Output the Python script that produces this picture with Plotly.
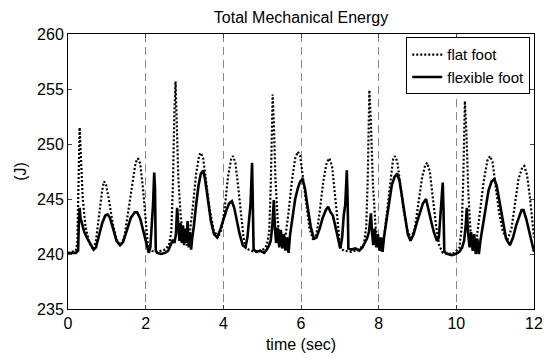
import plotly.graph_objects as go

# ---- data ----
flat_t = [0.00, 0.10, 0.20, 0.24, 0.27, 0.30, 0.33, 0.38, 0.45, 0.55, 0.65, 0.72, 0.80, 0.88, 0.93, 0.98,
          1.05, 1.15, 1.25, 1.36, 1.45, 1.55, 1.65, 1.74, 1.80, 1.86, 1.93, 2.00, 2.06, 2.10,
          2.30, 2.50, 2.60, 2.66, 2.70, 2.74, 2.77, 2.80, 2.84, 2.90, 2.97, 3.06, 3.14, 3.22, 3.30,
          3.38, 3.42, 3.48, 3.56, 3.65, 3.75, 3.86, 3.95, 4.03, 4.12, 4.20, 4.25, 4.31, 4.38, 4.45,
          4.52, 4.58, 4.65, 4.80, 5.00, 5.12, 5.18, 5.22, 5.25, 5.27, 5.30, 5.34, 5.40, 5.46, 5.52,
          5.60, 5.68, 5.76, 5.85, 5.92, 5.98, 6.05, 6.13, 6.22, 6.32, 6.40, 6.48, 6.57, 6.66, 6.73,
          6.80, 6.87, 6.94, 7.00, 7.04, 7.10, 7.30, 7.50, 7.62, 7.68, 7.72, 7.76, 7.80, 7.85, 7.92,
          8.00, 8.06, 8.14, 8.22, 8.30, 8.37, 8.42, 8.48, 8.56, 8.65, 8.75, 8.84, 8.93, 9.02, 9.12,
          9.20, 9.25, 9.32, 9.40, 9.48, 9.56, 9.65, 9.80, 9.95, 10.08, 10.14, 10.18, 10.22, 10.26,
          10.31, 10.37, 10.44, 10.52, 10.60, 10.70, 10.80, 10.87, 10.93, 11.00, 11.10, 11.20, 11.32,
          11.42, 11.50, 11.60, 11.70, 11.75, 11.82, 11.90, 12.00]
flat_e = [240.1, 240.2, 240.3, 241.0, 246.0, 251.5, 249.0, 245.0, 242.5, 241.0, 240.4, 241.2, 243.5, 245.8, 246.6, 246.3,
          245.0, 242.8, 241.3, 240.8, 241.5, 243.8, 246.5, 248.3, 248.7, 248.2, 246.0, 243.0, 240.6, 240.3,
          240.2, 240.4, 240.8, 242.0, 246.0, 253.0, 255.7, 252.0, 247.0, 243.5, 241.5, 240.8, 242.0, 244.5, 247.3,
          249.0, 249.2, 248.7, 246.5, 244.0, 242.2, 241.5, 242.2, 244.0, 247.0, 248.6, 248.9, 248.3, 246.2, 243.5,
          241.5, 240.6, 240.4, 240.2, 240.3, 240.8, 242.0, 246.0, 252.0, 254.5, 252.0, 247.0, 243.0, 241.2, 240.8,
          241.6, 243.8, 246.5, 248.7, 249.3, 248.9, 247.0, 244.5, 242.3, 241.2, 241.8, 243.8, 246.5, 248.3, 248.7,
          248.0, 245.5, 242.8, 241.0, 240.5, 240.3, 240.2, 240.4, 240.9, 242.5, 247.0, 254.9, 252.0, 246.5, 242.5,
          240.6, 240.3, 241.5, 244.0, 246.8, 248.6, 248.9, 248.4, 246.2, 243.8, 242.0, 241.5, 242.3, 244.5, 247.0,
          248.1, 248.3, 247.4, 245.0, 242.5, 240.8, 240.1, 240.0, 240.1, 240.6, 242.5, 247.0, 253.9, 251.0,
          245.5, 241.8, 240.3, 241.3, 243.5, 246.5, 248.5, 248.9, 248.4, 246.5, 243.8, 242.0, 241.3,
          242.3, 244.3, 246.8, 247.9, 248.0, 247.2, 245.0, 241.5]

flex_t = [0.00, 0.10, 0.20, 0.26, 0.28, 0.30, 0.32, 0.36, 0.42, 0.50, 0.58, 0.66, 0.72, 0.80, 0.88, 0.96,
          1.02, 1.08, 1.16, 1.25, 1.34, 1.42, 1.52, 1.62, 1.72, 1.78, 1.86, 1.94, 2.02, 2.08, 2.12,
          2.16, 2.19, 2.22, 2.24, 2.26, 2.30, 2.40, 2.50, 2.58, 2.64, 2.70, 2.74, 2.78, 2.81, 2.84,
          2.87, 2.90, 2.93, 2.96, 2.99, 3.02, 3.05, 3.08, 3.11, 3.14, 3.17, 3.20, 3.24, 3.30, 3.36,
          3.42, 3.48, 3.53, 3.60, 3.68, 3.76, 3.84, 3.92, 4.00, 4.08, 4.15, 4.22, 4.28, 4.35, 4.42,
          4.50, 4.57, 4.62, 4.66, 4.70, 4.74, 4.76, 4.78, 4.85, 4.95, 5.05, 5.12, 5.18, 5.22, 5.26,
          5.30, 5.33, 5.36, 5.40, 5.44, 5.48, 5.52, 5.56, 5.60, 5.64, 5.68, 5.72, 5.78, 5.85, 5.92,
          5.98, 6.04, 6.10, 6.17, 6.25, 6.33, 6.40, 6.48, 6.56, 6.64, 6.70, 6.76, 6.82, 6.88, 6.95,
          7.01, 7.06, 7.10, 7.14, 7.18, 7.20, 7.22, 7.30, 7.40, 7.50, 7.58, 7.64, 7.70, 7.75, 7.80,
          7.83, 7.86, 7.90, 7.94, 7.98, 8.02, 8.06, 8.10, 8.14, 8.20, 8.27, 8.34, 8.41, 8.48, 8.54,
          8.61, 8.68, 8.75, 8.82, 8.90, 8.98, 9.06, 9.14, 9.22, 9.28, 9.35, 9.42, 9.50, 9.55, 9.59,
          9.62, 9.65, 9.67, 9.69, 9.78, 9.88, 9.98, 10.08, 10.15, 10.20, 10.24, 10.27, 10.30, 10.34,
          10.38, 10.42, 10.46, 10.50, 10.54, 10.58, 10.62, 10.68, 10.75, 10.83, 10.91, 10.98, 11.04,
          11.12, 11.20, 11.28, 11.38, 11.46, 11.54, 11.62, 11.68, 11.73, 11.80, 11.88, 11.95, 12.00]
flex_e = [240.0, 240.1, 240.1, 240.3, 243.0, 244.2, 243.3, 242.8, 242.0, 241.4, 240.9, 240.4, 240.6, 241.6, 242.8, 243.5,
          243.6, 243.3, 242.3, 241.2, 240.8, 241.1, 242.2, 243.3, 243.8, 243.8, 243.2, 242.0, 240.8, 240.1, 240.6,
          242.5, 244.5, 247.4, 246.0, 240.3, 240.1, 240.0, 240.1, 240.3, 240.8, 241.3, 241.0, 241.8, 244.2, 242.5,
          241.2, 242.8, 241.0, 242.6, 240.8, 242.3, 241.0, 243.0, 240.6, 242.0, 240.4, 241.5, 242.5, 244.5, 246.2,
          247.3, 247.6, 246.8, 245.0, 243.0, 241.8, 241.5, 242.2, 243.2, 244.0, 244.6, 244.8, 244.2, 243.0, 241.8,
          240.8, 240.6, 241.5, 243.0, 244.5, 248.3, 245.0, 240.4, 240.2, 240.3, 240.1, 240.4, 240.8, 241.2, 242.5,
          244.9, 242.3, 241.0, 242.4, 240.6, 242.2, 240.5, 241.8, 240.3, 241.5, 240.1, 241.8, 243.5, 245.0, 246.0,
          246.6, 246.8, 246.0, 244.3, 242.5, 241.4, 241.5, 242.3, 243.3, 244.0, 244.3, 243.8, 243.5, 242.6, 241.4,
          240.5, 241.5, 243.5, 244.5, 247.6, 245.0, 240.5, 240.4, 240.5, 240.3, 240.6, 241.0, 241.4, 242.0, 243.7,
          242.0, 240.8, 242.3, 240.6, 241.8, 240.3, 241.5, 240.2, 241.6, 243.0, 244.8, 246.3, 247.0, 247.3, 246.6,
          245.0, 243.2, 241.8, 241.2, 241.8, 242.8, 243.8, 244.6, 245.0, 244.2, 243.0, 242.0, 241.2, 241.5, 243.5,
          244.5, 246.5, 244.0, 240.2, 240.0, 239.9, 240.0, 240.2, 240.6, 241.2, 242.5, 244.2, 242.0, 240.6,
          242.0, 240.3, 241.8, 240.0, 241.4, 240.0, 241.2, 242.5, 244.2, 245.8, 246.6, 246.8, 246.2,
          244.5, 242.8, 241.4, 240.8, 241.5, 242.6, 243.5, 244.0, 244.0, 243.2, 242.0, 240.8, 240.2]

x_ticks = [0, 2, 4, 6, 8, 10, 12]
y_ticks = [235, 240, 245, 250, 255, 260]
series_names = ["flat foot", "flexible foot"]

FONT = "Arial, Liberation Sans, Helvetica, sans-serif"

fig = go.Figure()
fig.add_trace(go.Scatter(x=flat_t, y=flat_e, mode="lines", name=series_names[0],
                         line=dict(color="black", width=2.2, dash="2px,2px")))
fig.add_trace(go.Scatter(x=flex_t, y=flex_e, mode="lines", name=series_names[1],
                         line=dict(color="black", width=2.6)))

# the page body adds an 8px offset, so the figure is 8px smaller each way
fig.update_layout(
    width=548, height=354,
    margin=dict(l=58, r=22, t=26, b=46),
    paper_bgcolor="white", plot_bgcolor="white",
    font=dict(family=FONT, size=16, color="black"),
    title=dict(text="Total Mechanical Energy", x=0.5, xref="paper", xanchor="center",
               y=0.988, yref="container", yanchor="top", font=dict(size=16, family=FONT)),
    legend=dict(x=0.992, y=0.988, xanchor="right", yanchor="top",
                bgcolor="white", bordercolor="black", borderwidth=1,
                font=dict(size=15, family=FONT), itemwidth=30,
                tracegroupgap=0),
    showlegend=True,
)
fig.update_xaxes(range=[0, 12], tickvals=x_ticks, ticks="inside", ticklen=4,
                 showline=True, linecolor="black", linewidth=1, mirror="ticks",
                 showgrid=True, gridcolor="#888", griddash="8px,5px", gridwidth=1,
                 zeroline=False, title=dict(text="time (sec)", standoff=7,
                                            font=dict(size=16)))
fig.update_yaxes(range=[235, 260], tickvals=y_ticks, ticks="inside", ticklen=4,
                 showline=True, linecolor="black", linewidth=1, mirror="ticks",
                 showgrid=False, zeroline=False,
                 title=dict(text="(J)", standoff=6, font=dict(size=16)))

fig.write_html("out.html")
